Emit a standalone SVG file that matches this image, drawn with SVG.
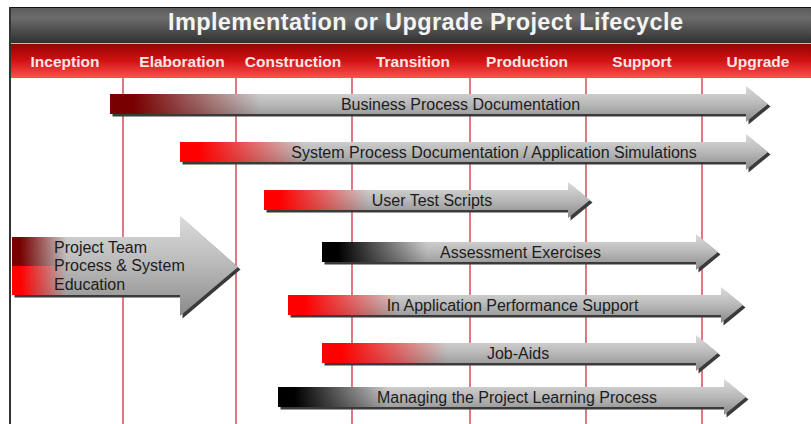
<svg xmlns="http://www.w3.org/2000/svg" width="811" height="424" viewBox="0 0 811 424">
  <defs>
    <linearGradient id="gTitle" x1="0" y1="0" x2="0" y2="1">
      <stop offset="0" stop-color="#5a5a5a"/>
      <stop offset="0.3" stop-color="#6c6c6c"/>
      <stop offset="1" stop-color="#303030"/>
    </linearGradient>
    <linearGradient id="gBand" x1="0" y1="0" x2="0" y2="1">
      <stop offset="0" stop-color="#940000"/>
      <stop offset="0.5" stop-color="#d01212"/>
      <stop offset="1" stop-color="#ff5050"/>
    </linearGradient>
    <linearGradient id="gBody" x1="0" y1="0" x2="0" y2="1">
      <stop offset="0" stop-color="#dcdcdc"/>
      <stop offset="0.5" stop-color="#b8b8b8"/>
      <stop offset="1" stop-color="#8a8a8a"/>
    </linearGradient>
    <linearGradient id="gRed" x1="0" y1="0" x2="1" y2="0">
      <stop offset="0" stop-color="#ff0000" stop-opacity="1"/>
      <stop offset="0.15" stop-color="#ff0000" stop-opacity="1"/>
      <stop offset="1" stop-color="#ff0000" stop-opacity="0"/>
    </linearGradient>
    <linearGradient id="gDark" x1="0" y1="0" x2="1" y2="0">
      <stop offset="0" stop-color="#780000" stop-opacity="1"/>
      <stop offset="0.15" stop-color="#780000" stop-opacity="1"/>
      <stop offset="1" stop-color="#780000" stop-opacity="0"/>
    </linearGradient>
    <linearGradient id="gBlack" x1="0" y1="0" x2="1" y2="0">
      <stop offset="0" stop-color="#000000" stop-opacity="1"/>
      <stop offset="0.15" stop-color="#000000" stop-opacity="1"/>
      <stop offset="1" stop-color="#000000" stop-opacity="0"/>
    </linearGradient>
  </defs>
  <style>
    .title { font-family: "Liberation Sans", Arial, sans-serif; font-weight: bold; font-size: 23.5px; fill: #f4f4f4; }
    .phase { font-family: "Liberation Sans", Arial, sans-serif; font-weight: bold; font-size: 15.5px; fill: #fbe6e6; text-anchor: middle; }
    .lbl { font-family: "Liberation Sans", Arial, sans-serif; font-size: 16px; fill: #1c1c1c; text-anchor: middle; }
    .lbl2 { font-family: "Liberation Sans", Arial, sans-serif; font-size: 16px; fill: #1c1c1c; }
    .grid { stroke: #cc1f2e; stroke-width: 1.2; }
    .shadow { fill: #3a3a3a; }
    .body { fill: url(#gBody); }
  </style>

  <rect x="0" y="0" width="811" height="424" fill="#ffffff"/>

  <g id="header">
    <rect x="10" y="7" width="801" height="36" fill="url(#gTitle)"/>
    <line x1="10" y1="7.5" x2="811" y2="7.5" stroke="#111" stroke-width="1"/>
    <rect x="10" y="43" width="801" height="35" fill="url(#gBand)"/>
    <line x1="10" y1="43.5" x2="811" y2="43.5" stroke="#e6b0b0" stroke-width="1"/>
    <text class="title" x="168" y="29.5" textLength="515">Implementation or Upgrade Project Lifecycle</text>
    <text class="phase" x="65" y="67">Inception</text>
    <text class="phase" x="182" y="67">Elaboration</text>
    <text class="phase" x="293" y="67">Construction</text>
    <text class="phase" x="413" y="67">Transition</text>
    <text class="phase" x="527" y="67">Production</text>
    <text class="phase" x="642" y="67">Support</text>
    <text class="phase" x="758" y="67">Upgrade</text>
  </g>

  <g id="connectors">
    <line class="grid" x1="123" y1="78" x2="123" y2="424"/>
    <line class="grid" x1="236" y1="78" x2="236" y2="424"/>
    <line class="grid" x1="352" y1="78" x2="352" y2="424"/>
    <line class="grid" x1="470" y1="78" x2="470" y2="424"/>
    <line class="grid" x1="586" y1="78" x2="586" y2="424"/>
    <line class="grid" x1="702" y1="78" x2="702" y2="424"/>
    <line x1="10" y1="7" x2="10" y2="424" stroke="#333" stroke-width="2"/>
  </g>

  <g id="business-process">
    <path class="shadow" transform="translate(2.5,2.5)" d="M110,94 H746 V86 L768,104 L746,122 V114 H110 Z"/>
    <path class="body" d="M110,94 H746 V86 L768,104 L746,122 V114 H110 Z"/>
    <rect x="110" y="94" width="150" height="20" fill="url(#gDark)"/>
    <text class="lbl" x="460.5" y="110">Business Process Documentation</text>
  </g>

  <g id="system-process">
    <path class="shadow" transform="translate(2.5,2.5)" d="M180,142 H746 V134 L768,152 L746,170 V162 H180 Z"/>
    <path class="body" d="M180,142 H746 V134 L768,152 L746,170 V162 H180 Z"/>
    <rect x="180" y="142" width="125" height="20" fill="url(#gRed)"/>
    <text class="lbl" x="494" y="158">System Process Documentation / Application Simulations</text>
  </g>

  <g id="user-test-scripts">
    <path class="shadow" transform="translate(2.5,2.5)" d="M264,190 H568 V182 L590,200 L568,218 V210 H264 Z"/>
    <path class="body" d="M264,190 H568 V182 L590,200 L568,218 V210 H264 Z"/>
    <rect x="264" y="190" width="105" height="20" fill="url(#gRed)"/>
    <text class="lbl" x="432" y="206">User Test Scripts</text>
  </g>

  <g id="project-team">
    <path class="shadow" transform="translate(2.5,2.5)" d="M12,237 H180 V216 L238,267 L180,316 V295 H12 Z"/>
    <path class="body" d="M12,237 H180 V216 L238,267 L180,316 V295 H12 Z"/>
    <rect x="12" y="237" width="55" height="29" fill="url(#gDark)"/>
    <rect x="12" y="266" width="55" height="29" fill="url(#gRed)"/>
    <text class="lbl2" x="54" y="252.5">Project Team</text>
    <text class="lbl2" x="54" y="271">Process &amp; System</text>
    <text class="lbl2" x="54" y="289.5">Education</text>
  </g>

  <g id="assessment-exercises">
    <path class="shadow" transform="translate(2.5,2.5)" d="M322,242 H696 V234 L718,252 L696,270 V262 H322 Z"/>
    <path class="body" d="M322,242 H696 V234 L718,252 L696,270 V262 H322 Z"/>
    <rect x="322" y="242" width="105" height="20" fill="url(#gBlack)"/>
    <text class="lbl" x="520.5" y="257.5">Assessment Exercises</text>
  </g>

  <g id="performance-support">
    <path class="shadow" transform="translate(2.5,2.5)" d="M288,295 H721 V287 L743,305 L721,323 V315 H288 Z"/>
    <path class="body" d="M288,295 H721 V287 L743,305 L721,323 V315 H288 Z"/>
    <rect x="288" y="295" width="110" height="20" fill="url(#gRed)"/>
    <text class="lbl" x="512.5" y="310.5">In Application Performance Support</text>
  </g>

  <g id="job-aids">
    <path class="shadow" transform="translate(2.5,2.5)" d="M322,343 H696 V335 L718,353 L696,371 V363 H322 Z"/>
    <path class="body" d="M322,343 H696 V335 L718,353 L696,371 V363 H322 Z"/>
    <rect x="322" y="343" width="125" height="20" fill="url(#gRed)"/>
    <text class="lbl" x="518" y="358.5">Job-Aids</text>
  </g>

  <g id="managing-learning">
    <path class="shadow" transform="translate(2.5,2.5)" d="M278,387 H724 V379 L746,397 L724,415 V407 H278 Z"/>
    <path class="body" d="M278,387 H724 V379 L746,397 L724,415 V407 H278 Z"/>
    <rect x="278" y="387" width="110" height="20" fill="url(#gBlack)"/>
    <text class="lbl" x="517" y="402.5">Managing the Project Learning Process</text>
  </g>
</svg>
